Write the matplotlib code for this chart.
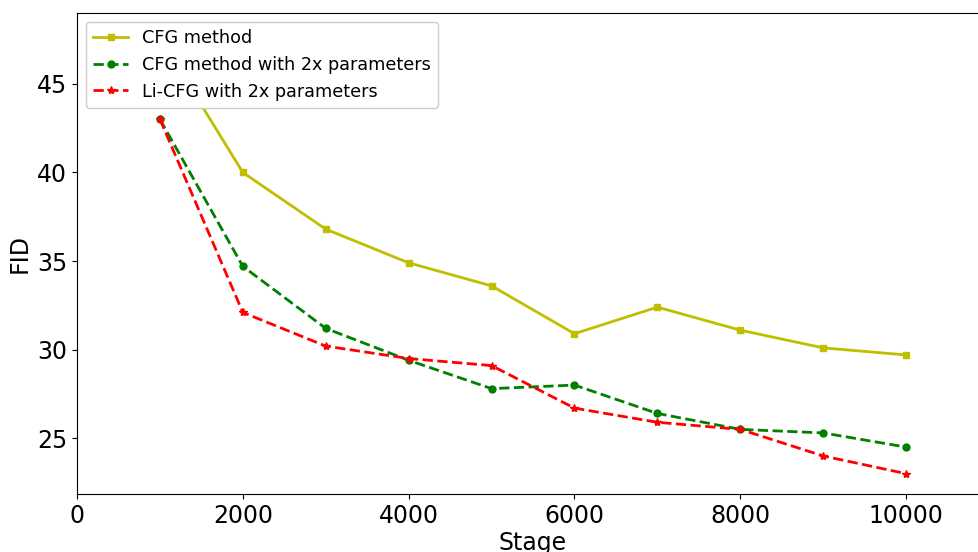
import numpy as np
import matplotlib
matplotlib.use('Agg')
import matplotlib.pyplot as plt

stages = [1000, 2000, 3000, 4000, 5000, 6000, 7000, 8000, 9000, 10000]
cfg = [47.6, 40.0, 36.8, 34.9, 33.6, 30.9, 32.4, 31.1, 30.1, 29.7]
cfg_2x = [43.0, 34.7, 31.2, 29.4, 27.8, 28.0, 26.4, 25.5, 25.3, 24.5]
licfg_2x = [43.0, 32.1, 30.2, 29.5, 29.1, 26.7, 25.9, 25.5, 24.0, 23.0]

fig = plt.figure(figsize=(9.79, 5.52), dpi=100)
ax = fig.add_axes([0.0787, 0.105, 0.9315, 0.8714])

ax.plot(stages, cfg, 'y-', marker='s', markersize=5, linewidth=2, label='CFG method')
ax.plot(stages, cfg_2x, 'g--', marker='o', markersize=5, linewidth=2,
        label='CFG method with 2x parameters')
ax.plot(stages, licfg_2x, 'r--', marker='*', markersize=6, linewidth=2,
        label='Li-CFG with 2x parameters')

ax.set_xlim(0, 11000)
ax.set_ylim(21.85, 49.0)
ax.set_xticks([0, 2000, 4000, 6000, 8000, 10000])
ax.set_yticks([25, 30, 35, 40, 45])
ax.tick_params(labelsize=17)
ax.set_xlabel('Stage', fontsize=17, labelpad=2)
ax.set_ylabel('FID', fontsize=17)
ax.legend(loc='upper left', fontsize=12.7, framealpha=1)

fig.savefig('out.png', dpi=100)
